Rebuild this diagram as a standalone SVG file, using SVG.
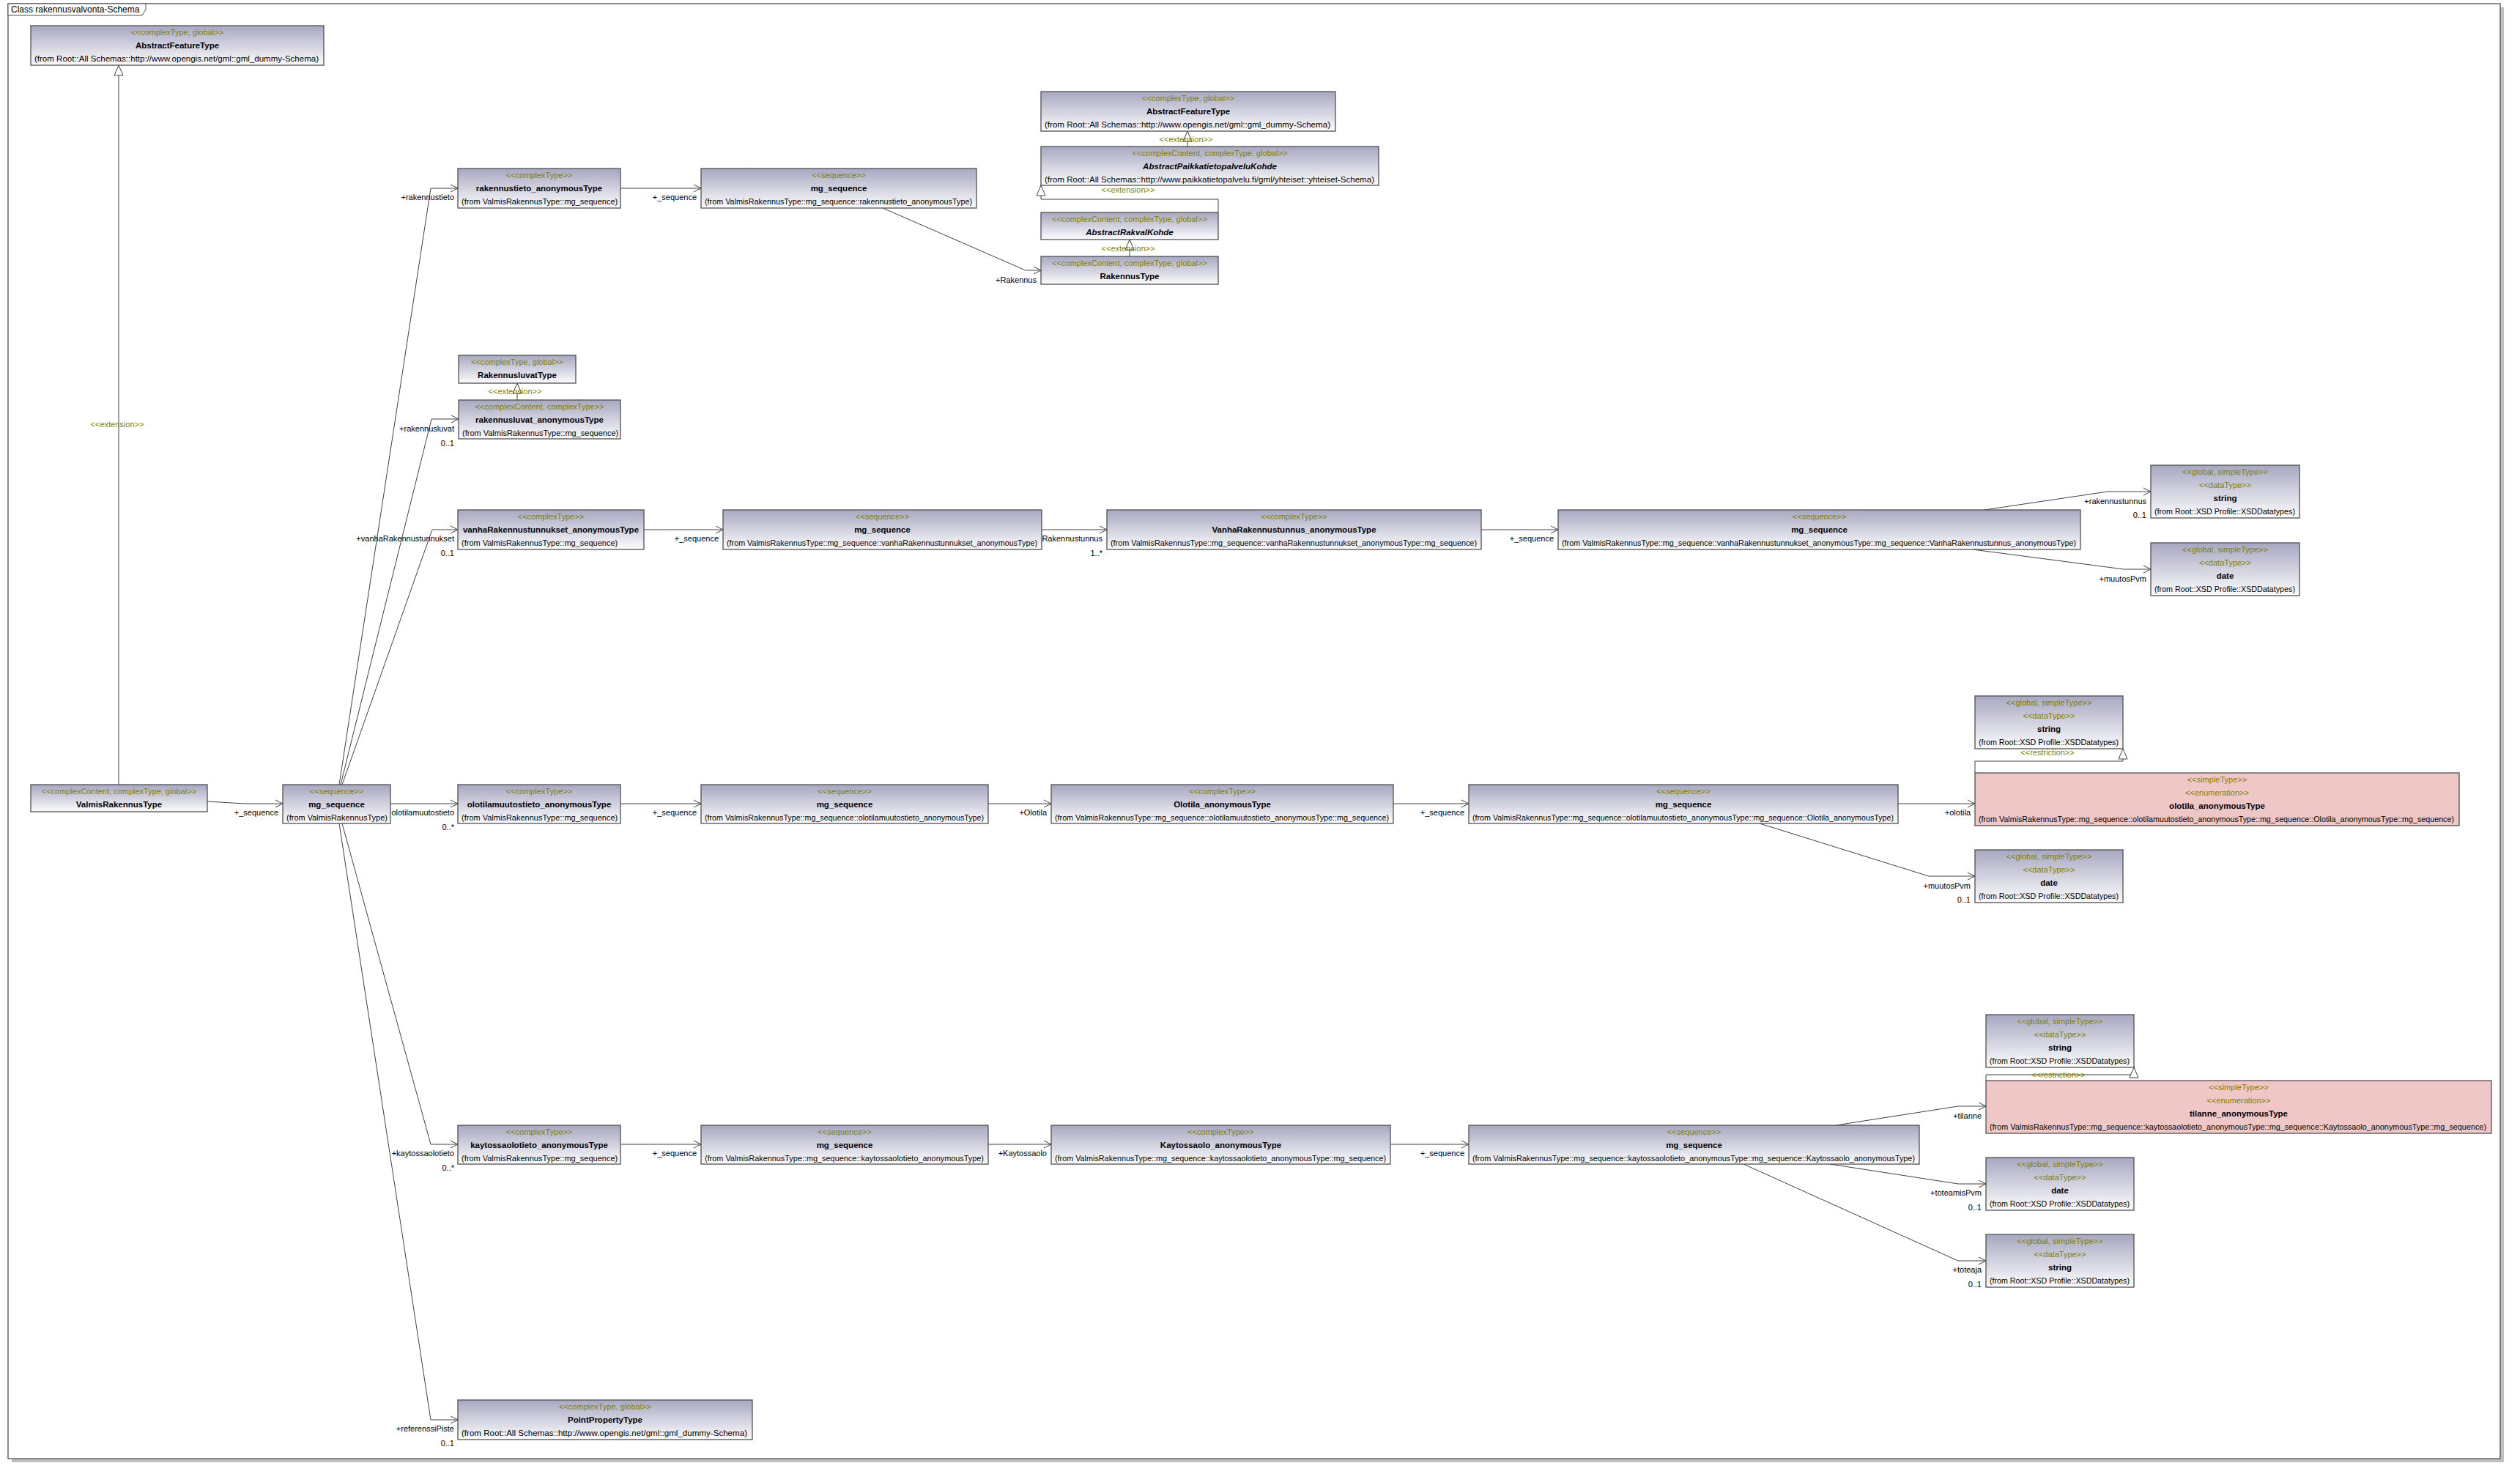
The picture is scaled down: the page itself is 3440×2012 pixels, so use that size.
<svg xmlns="http://www.w3.org/2000/svg" width="3440" height="2012" viewBox="0 0 3440 2012">
<defs>
<linearGradient id="g" x1="0" y1="0" x2="0" y2="1">
<stop offset="0" stop-color="#a7a7c1"/>
<stop offset="1" stop-color="#fcfcfe"/>
</linearGradient>
<marker id="arr" markerUnits="userSpaceOnUse" markerWidth="14" markerHeight="14" refX="11" refY="6" orient="auto" viewBox="0 0 14 12">
<path d="M1,1 L11,6 L1,11" fill="none" stroke="#404040" stroke-width="1"/>
</marker>
<marker id="tri" markerUnits="userSpaceOnUse" markerWidth="16" markerHeight="14" refX="15" refY="7" orient="auto" viewBox="0 0 16 14">
<path d="M1,1 L15,7 L1,13 Z" fill="#ffffff" stroke="#404040" stroke-width="1"/>
</marker>
<style>
text{font-family:"Liberation Sans",Arial,sans-serif;font-size:11px;fill:#000}
.b{fill:url(#g);stroke:#505050;stroke-width:1.3}
.p{fill:#efc7c7;stroke:#505050;stroke-width:1.3}
.s{fill:#7f7f00;text-anchor:middle}
.n{font-weight:bold;font-size:11.5px;text-anchor:middle}
.i{font-style:italic}
.l{text-anchor:end}
.c{fill:none;stroke:#404040;stroke-width:1}
.a{marker-end:url(#arr)}
.t{marker-end:url(#tri)}
</style>
</defs>
<rect x="0" y="0" width="3440" height="2012" fill="#ffffff"/>
<g id="frame">
<rect x="16" y="10" width="3402" height="1986" fill="#c0c0c0"/>
<rect x="11" y="5" width="3402" height="1986" fill="#ffffff" stroke="#505050" stroke-width="1.3"/>
<path d="M11,5 H199 V13 L194,21 H11 Z" fill="#ffffff" stroke="#505050" stroke-width="1"/>
<text x="15" y="17" style="font-size:12px">Class rakennusvalvonta-Schema</text>
</g>

<g id="connectors">
<path class="c t" d="M162,1071 V89"/>
<text class="s" x="160" y="583">&lt;&lt;extension&gt;&gt;</text>
<path class="c a" d="M283,1094 L334,1097 H386"/>
<text class="l" x="380" y="1113">+_sequence</text>
<path class="c a" d="M463,1071 L588,257 H625"/>
<text class="l" x="620" y="273">+rakennustieto</text>
<path class="c a" d="M465,1071 L589,572 H626"/>
<text class="l" x="620" y="589">+rakennusluvat</text>
<text class="l" x="620" y="609">0..1</text>
<path class="c a" d="M467,1071 L590,723 H625"/>
<text class="l" x="620" y="739">+vanhaRakennustunnukset</text>
<text class="l" x="620" y="759">0..1</text>
<path class="c a" d="M533,1097 H625"/>
<text class="l" x="620" y="1113">+olotilamuutostieto</text>
<text class="l" x="620" y="1133">0..*</text>
<path class="c a" d="M467,1124 L588,1562 H625"/>
<text class="l" x="620" y="1578">+kaytossaolotieto</text>
<text class="l" x="620" y="1598">0..*</text>
<path class="c a" d="M463,1124 L588,1938 H625"/>
<text class="l" x="620" y="1954">+referenssiPiste</text>
<text class="l" x="620" y="1974">0..1</text>
<path class="c a" d="M847,257 H957"/>
<text class="l" x="951" y="273">+_sequence</text>
<path class="c a" d="M1205,284 L1400,369 H1421"/>
<text class="l" x="1415" y="386">+Rakennus</text>
<path class="c t" d="M1621,200 V179"/>
<text class="s" x="1619" y="194">&lt;&lt;extension&gt;&gt;</text>
<path class="c t" d="M1663,290 V272 H1421 V253"/>
<text class="s" x="1540" y="263">&lt;&lt;extension&gt;&gt;</text>
<path class="c t" d="M1542,350 V327"/>
<text class="s" x="1540" y="343">&lt;&lt;extension&gt;&gt;</text>
<path class="c t" d="M706,546 V523"/>
<text class="s" x="703" y="538">&lt;&lt;extension&gt;&gt;</text>
<path class="c a" d="M879,723 H987"/>
<text class="l" x="981" y="739">+_sequence</text>
<path class="c a" d="M1422,723 H1511"/>
<text class="l" x="1505" y="739">+VanhaRakennustunnus</text>
<text class="l" x="1505" y="759">1..*</text>
<path class="c a" d="M2022,723 H2127"/>
<text class="l" x="2121" y="739">+_sequence</text>
<path class="c a" d="M2709,696 L2877,671 H2936"/>
<text class="l" x="2930" y="688">+rakennustunnus</text>
<text class="l" x="2930" y="707">0..1</text>
<path class="c a" d="M2693,750 L2899,777 H2936"/>
<text class="l" x="2930" y="794">+muutosPvm</text>
<path class="c a" d="M847,1097 H957"/>
<text class="l" x="951" y="1113">+_sequence</text>
<path class="c a" d="M1349,1097 H1435"/>
<text class="l" x="1429" y="1113">+Olotila</text>
<path class="c a" d="M1902,1097 H2005"/>
<text class="l" x="1999" y="1113">+_sequence</text>
<path class="c a" d="M2591,1097 H2696"/>
<text class="l" x="2690" y="1113">+olotila</text>
<path class="c a" d="M2402,1124 L2633,1196 H2696"/>
<text class="l" x="2690" y="1213">+muutosPvm</text>
<text class="l" x="2690" y="1232">0..1</text>
<path class="c t" d="M2696,1055 V1039 H2898 V1022"/>
<text class="s" x="2795" y="1031">&lt;&lt;restriction&gt;&gt;</text>
<path class="c a" d="M847,1562 H957"/>
<text class="l" x="951" y="1578">+_sequence</text>
<path class="c a" d="M1349,1562 H1435"/>
<text class="l" x="1429" y="1578">+Kaytossaolo</text>
<path class="c a" d="M1898,1562 H2005"/>
<text class="l" x="1999" y="1578">+_sequence</text>
<path class="c a" d="M2506,1536 L2673,1510 H2711"/>
<text class="l" x="2705" y="1527">+tilanne</text>
<path class="c a" d="M2498,1589 L2673,1616 H2711"/>
<text class="l" x="2705" y="1632">+toteamisPvm</text>
<text class="l" x="2705" y="1652">0..1</text>
<path class="c a" d="M2380,1589 L2673,1721 H2711"/>
<text class="l" x="2705" y="1737">+toteaja</text>
<text class="l" x="2705" y="1757">0..1</text>
<path class="c t" d="M2711,1475 V1467 H2913 V1457"/>
<text class="s" x="2810" y="1471">&lt;&lt;restriction&gt;&gt;</text>
</g>

<g id="n_aft1"><rect class="b" x="42" y="35" width="400" height="54"/>
<text class="s" x="242" y="48">&lt;&lt;complexType, global&gt;&gt;</text>
<text class="n" x="242" y="66">AbstractFeatureType</text>
<text x="47" y="84" textLength="388" lengthAdjust="spacingAndGlyphs">(from Root::All Schemas::http://www.opengis.net/gml::gml_dummy-Schema)</text></g>

<g id="n_vrt"><rect class="b" x="42" y="1071" width="241" height="37"/>
<text class="s" x="162.5" y="1084">&lt;&lt;complexContent, complexType, global&gt;&gt;</text>
<text class="n" x="162.5" y="1102">ValmisRakennusType</text></g>

<g id="n_seq1"><rect class="b" x="386" y="1071" width="147" height="53"/>
<text class="s" x="459.5" y="1084">&lt;&lt;sequence&gt;&gt;</text>
<text class="n" x="459.5" y="1102">mg_sequence</text>
<text x="391" y="1120">(from ValmisRakennusType)</text></g>

<g id="n_rt"><rect class="b" x="625" y="230" width="222" height="54"/>
<text class="s" x="736" y="243">&lt;&lt;complexType&gt;&gt;</text>
<text class="n" x="736" y="261">rakennustieto_anonymousType</text>
<text x="630" y="279">(from ValmisRakennusType::mg_sequence)</text></g>

<g id="n_seq2"><rect class="b" x="957" y="230" width="376" height="54"/>
<text class="s" x="1145" y="243">&lt;&lt;sequence&gt;&gt;</text>
<text class="n" x="1145" y="261">mg_sequence</text>
<text x="962" y="279" textLength="365" lengthAdjust="spacingAndGlyphs">(from ValmisRakennusType::mg_sequence::rakennustieto_anonymousType)</text></g>

<g id="n_aft2"><rect class="b" x="1421" y="125" width="402" height="54"/>
<text class="s" x="1622" y="138">&lt;&lt;complexType, global&gt;&gt;</text>
<text class="n" x="1622" y="156">AbstractFeatureType</text>
<text x="1426" y="174" textLength="390" lengthAdjust="spacingAndGlyphs">(from Root::All Schemas::http://www.opengis.net/gml::gml_dummy-Schema)</text></g>

<g id="n_apk"><rect class="b" x="1421" y="200" width="461" height="53"/>
<text class="s" x="1651.5" y="213">&lt;&lt;complexContent, complexType, global&gt;&gt;</text>
<text class="n i" x="1651.5" y="231">AbstractPaikkatietopalveluKohde</text>
<text x="1426" y="249" textLength="450" lengthAdjust="spacingAndGlyphs">(from Root::All Schemas::http://www.paikkatietopalvelu.fi/gml/yhteiset::yhteiset-Schema)</text></g>

<g id="n_ark"><rect class="b" x="1421" y="290" width="242" height="37"/>
<text class="s" x="1542" y="303">&lt;&lt;complexContent, complexType, global&gt;&gt;</text>
<text class="n i" x="1542" y="321">AbstractRakvalKohde</text></g>

<g id="n_rak"><rect class="b" x="1421" y="350" width="242" height="38"/>
<text class="s" x="1542" y="363">&lt;&lt;complexContent, complexType, global&gt;&gt;</text>
<text class="n" x="1542" y="381">RakennusType</text></g>

<g id="n_rlt"><rect class="b" x="626" y="485" width="160" height="38"/>
<text class="s" x="706" y="498">&lt;&lt;complexType, global&gt;&gt;</text>
<text class="n" x="706" y="516">RakennusluvatType</text></g>

<g id="n_rla"><rect class="b" x="626" y="546" width="221" height="53"/>
<text class="s" x="736.5" y="559">&lt;&lt;complexContent, complexType&gt;&gt;</text>
<text class="n" x="736.5" y="577">rakennusluvat_anonymousType</text>
<text x="631" y="595">(from ValmisRakennusType::mg_sequence)</text></g>

<g id="n_vra"><rect class="b" x="625" y="696" width="254" height="54"/>
<text class="s" x="752" y="709">&lt;&lt;complexType&gt;&gt;</text>
<text class="n" x="752" y="727">vanhaRakennustunnukset_anonymousType</text>
<text x="630" y="745">(from ValmisRakennusType::mg_sequence)</text></g>

<g id="n_seq3"><rect class="b" x="987" y="696" width="435" height="54"/>
<text class="s" x="1204.5" y="709">&lt;&lt;sequence&gt;&gt;</text>
<text class="n" x="1204.5" y="727">mg_sequence</text>
<text x="992" y="745" textLength="424" lengthAdjust="spacingAndGlyphs">(from ValmisRakennusType::mg_sequence::vanhaRakennustunnukset_anonymousType)</text></g>

<g id="n_vrt2"><rect class="b" x="1511" y="696" width="511" height="54"/>
<text class="s" x="1766.5" y="709">&lt;&lt;complexType&gt;&gt;</text>
<text class="n" x="1766.5" y="727">VanhaRakennustunnus_anonymousType</text>
<text x="1516" y="745" textLength="500" lengthAdjust="spacingAndGlyphs">(from ValmisRakennusType::mg_sequence::vanhaRakennustunnukset_anonymousType::mg_sequence)</text></g>

<g id="n_seq4"><rect class="b" x="2127" y="696" width="713" height="54"/>
<text class="s" x="2483.5" y="709">&lt;&lt;sequence&gt;&gt;</text>
<text class="n" x="2483.5" y="727">mg_sequence</text>
<text x="2132" y="745" textLength="702" lengthAdjust="spacingAndGlyphs">(from ValmisRakennusType::mg_sequence::vanhaRakennustunnukset_anonymousType::mg_sequence::VanhaRakennustunnus_anonymousType)</text></g>

<g id="n_str1"><rect class="b" x="2936" y="635" width="203" height="72"/>
<text class="s" x="3037.5" y="648">&lt;&lt;global, simpleType&gt;&gt;</text>
<text class="s" x="3037.5" y="666">&lt;&lt;dataType&gt;&gt;</text>
<text class="n" x="3037.5" y="684">string</text>
<text x="2941" y="702" textLength="192" lengthAdjust="spacingAndGlyphs">(from Root::XSD Profile::XSDDatatypes)</text></g>

<g id="n_date1"><rect class="b" x="2936" y="741" width="203" height="72"/>
<text class="s" x="3037.5" y="754">&lt;&lt;global, simpleType&gt;&gt;</text>
<text class="s" x="3037.5" y="772">&lt;&lt;dataType&gt;&gt;</text>
<text class="n" x="3037.5" y="790">date</text>
<text x="2941" y="808" textLength="192" lengthAdjust="spacingAndGlyphs">(from Root::XSD Profile::XSDDatatypes)</text></g>

<g id="n_omt"><rect class="b" x="625" y="1071" width="222" height="53"/>
<text class="s" x="736" y="1084">&lt;&lt;complexType&gt;&gt;</text>
<text class="n" x="736" y="1102">olotilamuutostieto_anonymousType</text>
<text x="630" y="1120">(from ValmisRakennusType::mg_sequence)</text></g>

<g id="n_seq5"><rect class="b" x="957" y="1071" width="392" height="53"/>
<text class="s" x="1153" y="1084">&lt;&lt;sequence&gt;&gt;</text>
<text class="n" x="1153" y="1102">mg_sequence</text>
<text x="962" y="1120" textLength="381" lengthAdjust="spacingAndGlyphs">(from ValmisRakennusType::mg_sequence::olotilamuutostieto_anonymousType)</text></g>

<g id="n_ola"><rect class="b" x="1435" y="1071" width="467" height="53"/>
<text class="s" x="1668.5" y="1084">&lt;&lt;complexType&gt;&gt;</text>
<text class="n" x="1668.5" y="1102">Olotila_anonymousType</text>
<text x="1440" y="1120" textLength="456" lengthAdjust="spacingAndGlyphs">(from ValmisRakennusType::mg_sequence::olotilamuutostieto_anonymousType::mg_sequence)</text></g>

<g id="n_seq6"><rect class="b" x="2005" y="1071" width="586" height="53"/>
<text class="s" x="2298" y="1084">&lt;&lt;sequence&gt;&gt;</text>
<text class="n" x="2298" y="1102">mg_sequence</text>
<text x="2010" y="1120" textLength="575" lengthAdjust="spacingAndGlyphs">(from ValmisRakennusType::mg_sequence::olotilamuutostieto_anonymousType::mg_sequence::Olotila_anonymousType)</text></g>

<g id="n_str2"><rect class="b" x="2696" y="950" width="202" height="72"/>
<text class="s" x="2797" y="963">&lt;&lt;global, simpleType&gt;&gt;</text>
<text class="s" x="2797" y="981">&lt;&lt;dataType&gt;&gt;</text>
<text class="n" x="2797" y="999">string</text>
<text x="2701" y="1017" textLength="191" lengthAdjust="spacingAndGlyphs">(from Root::XSD Profile::XSDDatatypes)</text></g>

<g id="n_olp"><rect class="p" x="2696" y="1055" width="661" height="72"/>
<text class="s" x="3026.5" y="1068">&lt;&lt;simpleType&gt;&gt;</text>
<text class="s" x="3026.5" y="1086">&lt;&lt;enumeration&gt;&gt;</text>
<text class="n" x="3026.5" y="1104">olotila_anonymousType</text>
<text x="2701" y="1122" textLength="649" lengthAdjust="spacingAndGlyphs">(from ValmisRakennusType::mg_sequence::olotilamuutostieto_anonymousType::mg_sequence::Olotila_anonymousType::mg_sequence)</text></g>

<g id="n_date2"><rect class="b" x="2696" y="1160" width="202" height="72"/>
<text class="s" x="2797" y="1173">&lt;&lt;global, simpleType&gt;&gt;</text>
<text class="s" x="2797" y="1191">&lt;&lt;dataType&gt;&gt;</text>
<text class="n" x="2797" y="1209">date</text>
<text x="2701" y="1227" textLength="191" lengthAdjust="spacingAndGlyphs">(from Root::XSD Profile::XSDDatatypes)</text></g>

<g id="n_kot"><rect class="b" x="625" y="1536" width="222" height="53"/>
<text class="s" x="736" y="1549">&lt;&lt;complexType&gt;&gt;</text>
<text class="n" x="736" y="1567">kaytossaolotieto_anonymousType</text>
<text x="630" y="1585">(from ValmisRakennusType::mg_sequence)</text></g>

<g id="n_seq7"><rect class="b" x="957" y="1536" width="392" height="53"/>
<text class="s" x="1153" y="1549">&lt;&lt;sequence&gt;&gt;</text>
<text class="n" x="1153" y="1567">mg_sequence</text>
<text x="962" y="1585" textLength="381" lengthAdjust="spacingAndGlyphs">(from ValmisRakennusType::mg_sequence::kaytossaolotieto_anonymousType)</text></g>

<g id="n_kao"><rect class="b" x="1435" y="1536" width="463" height="53"/>
<text class="s" x="1666.5" y="1549">&lt;&lt;complexType&gt;&gt;</text>
<text class="n" x="1666.5" y="1567">Kaytossaolo_anonymousType</text>
<text x="1440" y="1585" textLength="452" lengthAdjust="spacingAndGlyphs">(from ValmisRakennusType::mg_sequence::kaytossaolotieto_anonymousType::mg_sequence)</text></g>

<g id="n_seq8"><rect class="b" x="2005" y="1536" width="615" height="53"/>
<text class="s" x="2312.5" y="1549">&lt;&lt;sequence&gt;&gt;</text>
<text class="n" x="2312.5" y="1567">mg_sequence</text>
<text x="2010" y="1585" textLength="604" lengthAdjust="spacingAndGlyphs">(from ValmisRakennusType::mg_sequence::kaytossaolotieto_anonymousType::mg_sequence::Kaytossaolo_anonymousType)</text></g>

<g id="n_str3"><rect class="b" x="2711" y="1385" width="202" height="72"/>
<text class="s" x="2812" y="1398">&lt;&lt;global, simpleType&gt;&gt;</text>
<text class="s" x="2812" y="1416">&lt;&lt;dataType&gt;&gt;</text>
<text class="n" x="2812" y="1434">string</text>
<text x="2716" y="1452" textLength="191" lengthAdjust="spacingAndGlyphs">(from Root::XSD Profile::XSDDatatypes)</text></g>

<g id="n_til"><rect class="p" x="2711" y="1475" width="690" height="72"/>
<text class="s" x="3056" y="1488">&lt;&lt;simpleType&gt;&gt;</text>
<text class="s" x="3056" y="1506">&lt;&lt;enumeration&gt;&gt;</text>
<text class="n" x="3056" y="1524">tilanne_anonymousType</text>
<text x="2716" y="1542" textLength="678" lengthAdjust="spacingAndGlyphs">(from ValmisRakennusType::mg_sequence::kaytossaolotieto_anonymousType::mg_sequence::Kaytossaolo_anonymousType::mg_sequence)</text></g>

<g id="n_date3"><rect class="b" x="2711" y="1580" width="202" height="72"/>
<text class="s" x="2812" y="1593">&lt;&lt;global, simpleType&gt;&gt;</text>
<text class="s" x="2812" y="1611">&lt;&lt;dataType&gt;&gt;</text>
<text class="n" x="2812" y="1629">date</text>
<text x="2716" y="1647" textLength="191" lengthAdjust="spacingAndGlyphs">(from Root::XSD Profile::XSDDatatypes)</text></g>

<g id="n_str4"><rect class="b" x="2711" y="1685" width="202" height="72"/>
<text class="s" x="2812" y="1698">&lt;&lt;global, simpleType&gt;&gt;</text>
<text class="s" x="2812" y="1716">&lt;&lt;dataType&gt;&gt;</text>
<text class="n" x="2812" y="1734">string</text>
<text x="2716" y="1752" textLength="191" lengthAdjust="spacingAndGlyphs">(from Root::XSD Profile::XSDDatatypes)</text></g>

<g id="n_ppt"><rect class="b" x="625" y="1911" width="402" height="54"/>
<text class="s" x="826" y="1924">&lt;&lt;complexType, global&gt;&gt;</text>
<text class="n" x="826" y="1942">PointPropertyType</text>
<text x="630" y="1960" textLength="390" lengthAdjust="spacingAndGlyphs">(from Root::All Schemas::http://www.opengis.net/gml::gml_dummy-Schema)</text></g>
</svg>
